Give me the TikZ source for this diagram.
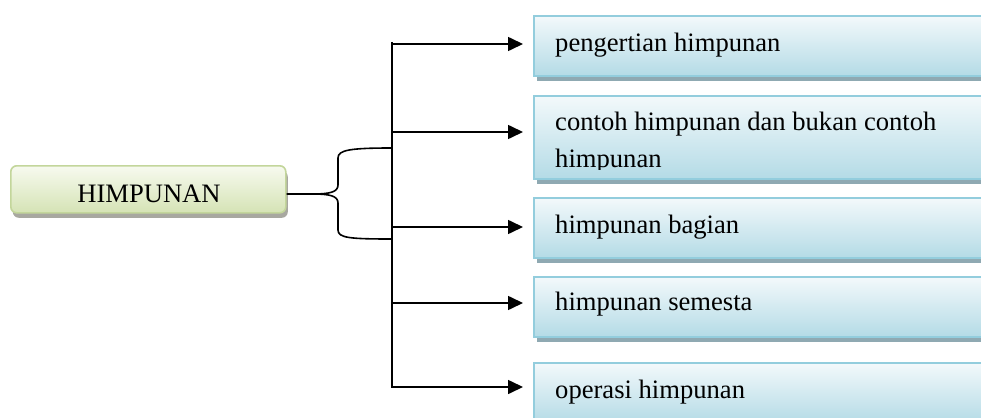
\documentclass[tikz,border=0pt]{standalone}
\usepackage{fontspec}
\setmainfont{Liberation Serif}
\usetikzlibrary{arrows.meta}
\definecolor{bluebd}{HTML}{93CDDD}
\definecolor{bluetop}{HTML}{F3F9FB}
\definecolor{bluebot}{HTML}{B4DBE6}
\definecolor{blueshd}{HTML}{8FA9B2}
\definecolor{greenbd}{HTML}{C3D69B}
\definecolor{greentop}{HTML}{F7FAEF}
\definecolor{greenbot}{HTML}{D5E3B5}
\definecolor{greenshd}{HTML}{A8A8A0}
\tikzset{
  x=1pt, y=1pt,
  topicbox/.style={draw=bluebd, line width=1.6pt, top color=bluetop, bottom color=bluebot,
    minimum width=460pt, anchor=north west, inner sep=0pt,
    preaction={fill=blueshd, transform canvas={xshift=3pt,yshift=-5pt}}},
  rootbox/.style={draw=greenbd, line width=1.6pt, top color=greentop, bottom color=greenbot,
    rounded corners=6pt, minimum width=275pt, minimum height=47pt, anchor=north west, inner sep=0pt,
    preaction={fill=greenshd, rounded corners=6pt, transform canvas={xshift=2pt,yshift=-5pt}}},
  lbl/.style={anchor=base west, inner sep=0pt, font=\fontsize{26.6}{37}\selectfont},
  conn/.style={line width=1.6pt, black},
  arr/.style={conn, -{Triangle[length=15pt,width=14pt]}}
}
\begin{document}
\begin{tikzpicture}
\useasboundingbox (0,0) rectangle (981,-417);
\clip (0,0) rectangle (981,-417);
\fill[white] (0,0) rectangle (981,-417);

% root
\node[rootbox] (root) at (10,-165) {};
\node[anchor=base, inner sep=0pt, font=\fontsize{26.6}{37}\selectfont] (roottxt) at (149,-202) {HIMPUNAN};

% topic boxes
\node[topicbox, minimum height=60pt] (b1) at (533,-15) {};
\node[topicbox, minimum height=83pt] (b2) at (533,-95) {};
\node[topicbox, minimum height=60pt] (b3) at (533,-197) {};
\node[topicbox, minimum height=60pt] (b4) at (533,-276) {};
\node[topicbox, minimum height=60pt] (b5) at (533,-362) {};

\node[lbl] (t1) at (555,-52) {pengertian himpunan};
\begin{scope}
\clip (533,-95) rectangle (1000,-169);
\node[lbl] (t2a) at (555,-130) {contoh himpunan dan bukan contoh};
\node[lbl] (t2b) at (555,-167) {himpunan};
\end{scope}
\node[lbl] (t3) at (555,-233) {himpunan bagian};
\node[lbl] (t4) at (555,-310) {himpunan semesta};
\node[lbl] (t5) at (555,-398) {operasi himpunan};

% trunk and arrows
\coordinate (top) at (392,-42);
\coordinate (bot) at (392,-388);
\draw[conn] (top) -- (bot);
\foreach \i/\y in {1/44,2/132,3/227,4/303,5/387}{
  \coordinate (s\i) at (392,-\y);
  \coordinate (e\i) at (523,-\y);
  \draw[arr] (s\i) -- (e\i);
}

% brace
\coordinate (tip) at (313,-194);
\coordinate (bt) at (392,-148);
\coordinate (bb) at (392,-239);
\draw[conn] (root.east |- tip) -- (tip)
  .. controls (330,-194) and (338,-192) .. (338,-185) -- (338,-158)
  .. controls (338,-150) and (350,-148) .. (bt);
\draw[conn] (tip)
  .. controls (330,-194) and (338,-196) .. (338,-203) -- (338,-230)
  .. controls (338,-238) and (350,-239) .. (bb);
\end{tikzpicture}
\end{document}
